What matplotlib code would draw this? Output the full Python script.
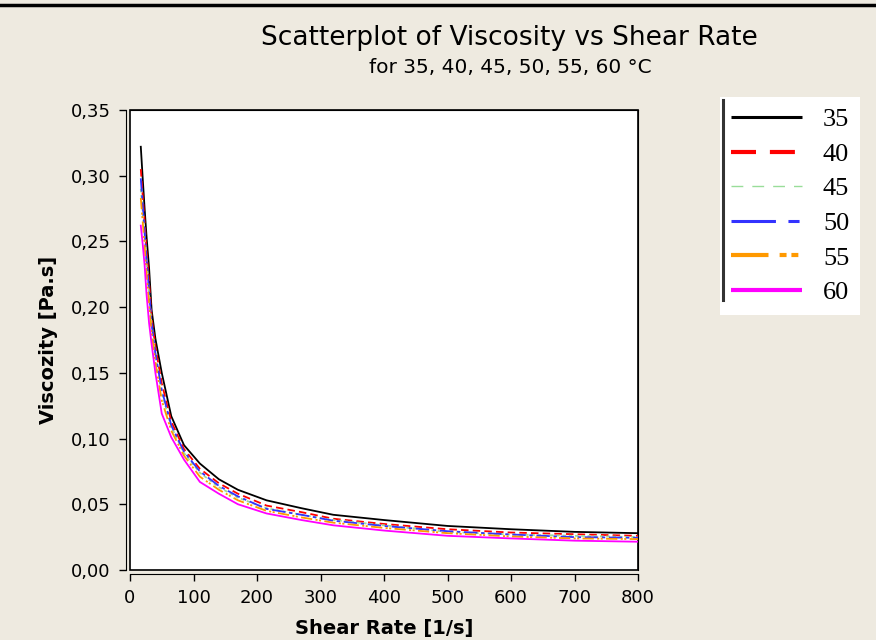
import matplotlib.pyplot as plt
from matplotlib.lines import Line2D
from matplotlib.patches import Rectangle
from matplotlib.ticker import FuncFormatter

plt.rcParams['lines.scale_dashes'] = False

shear_rate = [17, 20, 23, 26, 30, 34, 40, 50, 65, 85, 110, 140, 170, 215, 270, 320, 400, 500, 600, 700, 800]

visc_35 = [0.322, 0.298, 0.275, 0.254, 0.230, 0.198, 0.176, 0.150, 0.117, 0.095, 0.081, 0.069, 0.061,
           0.053, 0.047, 0.042, 0.038, 0.0335, 0.031, 0.029, 0.028]
visc_40 = [0.305, 0.285, 0.265, 0.243, 0.220, 0.192, 0.170, 0.142, 0.113, 0.092, 0.077, 0.066, 0.058,
           0.049, 0.044, 0.039, 0.035, 0.031, 0.0285, 0.0272, 0.026]
visc_45 = [0.290, 0.273, 0.255, 0.233, 0.210, 0.186, 0.163, 0.135, 0.109, 0.089, 0.074, 0.063, 0.055,
           0.047, 0.042, 0.038, 0.034, 0.029, 0.027, 0.026, 0.025]
visc_50 = [0.298, 0.278, 0.258, 0.236, 0.213, 0.188, 0.165, 0.137, 0.110, 0.090, 0.075, 0.064, 0.056,
           0.0465, 0.042, 0.0375, 0.0335, 0.0295, 0.027, 0.025, 0.0245]
visc_55 = [0.283, 0.265, 0.247, 0.226, 0.203, 0.181, 0.158, 0.129, 0.106, 0.087, 0.071, 0.061, 0.053,
           0.045, 0.040, 0.036, 0.032, 0.028, 0.0255, 0.024, 0.0235]
visc_60 = [0.262, 0.248, 0.232, 0.210, 0.188, 0.172, 0.150, 0.119, 0.101, 0.084, 0.067, 0.058, 0.050,
           0.043, 0.038, 0.034, 0.030, 0.026, 0.024, 0.0223, 0.0215]

temps = ['35', '40', '45', '50', '55', '60']
colors = ['black', '#FF0000', '#99DD99', '#3333FF', '#FF9900', '#FF00FF']
# dash patterns in points (legend size); plot lines use a shrunk copy
dashes = [None, (18, 10), (8.5, 6.5), (32, 9, 8, 9), (27, 8, 5, 3.5, 5, 8), None]
legend_lw = [2.2, 3.0, 1.0, 2.2, 3.0, 3.0]

bg = '#EEEAE0'
fig = plt.figure(figsize=(8.76, 6.4), dpi=100, facecolor=bg)
ax = fig.add_axes([0.1484, 0.1094, 0.58, 0.7188])

series = [visc_35, visc_40, visc_45, visc_50, visc_55, visc_60]
handles = []
for vals, c, d, lw in zip(series, colors, dashes, legend_lw):
    line, = ax.plot(shear_rate, vals, color=c, lw=1.3)
    h = Line2D([], [], color=c, lw=lw, solid_capstyle='butt', dash_capstyle='butt')
    if d is not None:
        line.set_dashes([v * 0.3 for v in d])
        h.set_dashes(d)
    handles.append(h)

ax.set_xlim(0, 800)
ax.set_ylim(0, 0.35)
ax.set_xticks(range(0, 801, 100))
ax.set_yticks([0, 0.05, 0.10, 0.15, 0.20, 0.25, 0.30, 0.35])
ax.yaxis.set_major_formatter(FuncFormatter(lambda v, p: f'{v:.2f}'.replace('.', ',')))
ax.tick_params(labelsize=13, length=5, width=1, direction='out', pad=6)
ax.spines['left'].set_position(('outward', 3))
ax.spines['bottom'].set_position(('outward', 3))
ax.add_patch(Rectangle((0, 0), 1, 1, transform=ax.transAxes, fill=False, lw=1.2,
                       edgecolor='black', clip_on=False))
ax.set_facecolor('white')

ax.set_xlabel('Shear Rate [1/s]', fontsize=14, fontweight='bold', labelpad=8)
ax.set_ylabel('Viscozity [Pa.s]', fontsize=14, fontweight='bold', labelpad=9)

fig.text(0.581, 0.94, 'Scatterplot of Viscosity vs Shear Rate', fontsize=19, ha='center', va='center')
fig.text(0.582, 0.895, 'for 35, 40, 45, 50, 55, 60 \u00b0C', fontsize=14.5, ha='center', va='center')

leg = fig.legend(handles, temps, loc='upper left', bbox_to_anchor=(0.822, 0.848),
                 prop={'family': 'Liberation Serif', 'size': 19}, frameon=True, fancybox=False,
                 facecolor='white', edgecolor='none', framealpha=1, handlelength=2.7,
                 handletextpad=0.8, labelspacing=0.42, borderpad=0.4, borderaxespad=0)

fig.add_artist(Line2D([0.825, 0.825], [0.531, 0.844], color='#333333', lw=2.2, zorder=10))
fig.add_artist(Line2D([0, 1], [0.992, 0.992], color='black', lw=2.5))

fig.savefig('out.png', dpi=100, facecolor=bg)
